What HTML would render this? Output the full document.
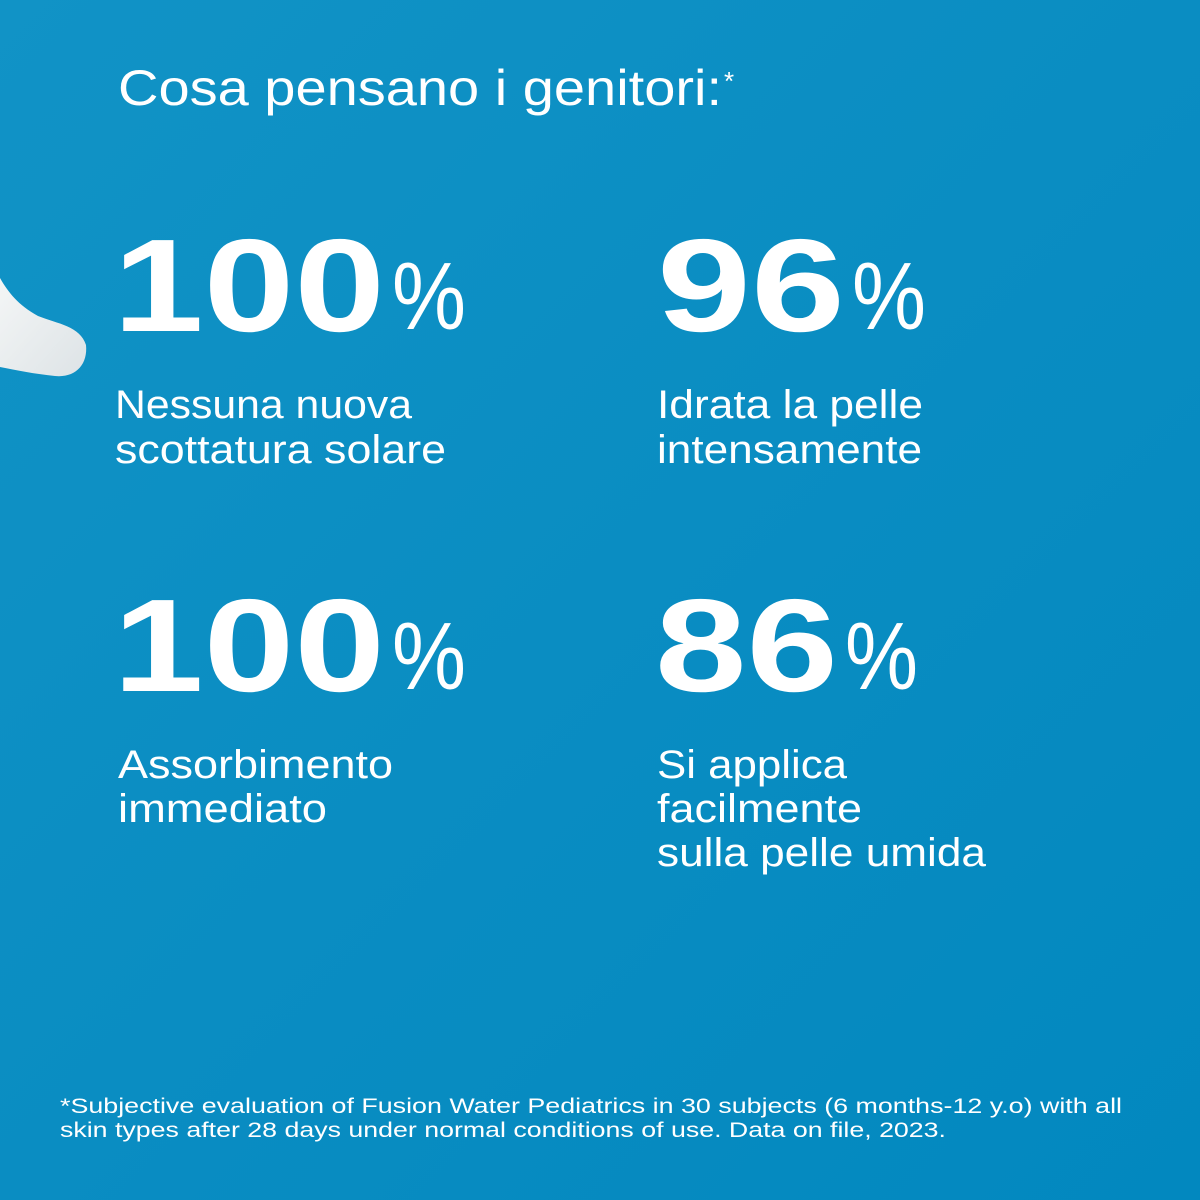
<!DOCTYPE html>
<html><head><meta charset="utf-8"><style>
html,body{margin:0;padding:0;width:1200px;height:1200px;overflow:hidden}
</style></head><body>
<svg width="1200" height="1200" viewBox="0 0 1200 1200" xmlns="http://www.w3.org/2000/svg">
<defs>
<linearGradient id="bg" x1="0" y1="0" x2="1" y2="1">
<stop offset="0" stop-color="#1193c6"/><stop offset="0.5" stop-color="#0a8dc2"/><stop offset="1" stop-color="#0288bf"/>
</linearGradient>
<linearGradient id="cr" x1="0" y1="0" x2="1" y2="1">
<stop offset="0" stop-color="#f4f6f6"/><stop offset="1" stop-color="#dde3e6"/>
</linearGradient>
</defs>
<rect width="1200" height="1200" fill="url(#bg)"/>
<path d="M0,278 C8,292 18,305 38,316 C58,324 80,326 86,345 C88,365 75,378 55,376 C35,374 15,370 0,367 Z" fill="url(#cr)"/>
<g fill="#fff" font-family="Liberation Sans, sans-serif">
<text x="118" y="105" font-size="50" textLength="604" lengthAdjust="spacingAndGlyphs">Cosa pensano i genitori:</text>
<text x="724" y="90" font-size="26">*</text>

<text x="113" y="331" font-size="132" font-weight="bold" textLength="272" lengthAdjust="spacingAndGlyphs">100</text>
<text x="392" y="329" font-size="96" textLength="74" lengthAdjust="spacingAndGlyphs">%</text>
<text x="657" y="331" font-size="132" font-weight="bold" textLength="188" lengthAdjust="spacingAndGlyphs">96</text>
<text x="852" y="329" font-size="96" textLength="74" lengthAdjust="spacingAndGlyphs">%</text>

<text x="115" y="418" font-size="40" textLength="297" lengthAdjust="spacingAndGlyphs">Nessuna nuova</text>
<text x="115" y="463" font-size="40" textLength="331" lengthAdjust="spacingAndGlyphs">scottatura solare</text>
<text x="657" y="418" font-size="40" textLength="266" lengthAdjust="spacingAndGlyphs">Idrata la pelle</text>
<text x="657" y="463" font-size="40" textLength="265" lengthAdjust="spacingAndGlyphs">intensamente</text>

<text x="113" y="691" font-size="132" font-weight="bold" textLength="272" lengthAdjust="spacingAndGlyphs">100</text>
<text x="392" y="689" font-size="96" textLength="74" lengthAdjust="spacingAndGlyphs">%</text>
<text x="655" y="691" font-size="132" font-weight="bold" textLength="183" lengthAdjust="spacingAndGlyphs">86</text>
<text x="845" y="689" font-size="96" textLength="73" lengthAdjust="spacingAndGlyphs">%</text>

<text x="118" y="778" font-size="40" textLength="275" lengthAdjust="spacingAndGlyphs">Assorbimento</text>
<text x="118" y="822" font-size="40" textLength="209" lengthAdjust="spacingAndGlyphs">immediato</text>
<text x="657" y="778" font-size="40" textLength="190" lengthAdjust="spacingAndGlyphs">Si applica</text>
<text x="657" y="822" font-size="40" textLength="205" lengthAdjust="spacingAndGlyphs">facilmente</text>
<text x="657" y="866" font-size="40" textLength="329" lengthAdjust="spacingAndGlyphs">sulla pelle umida</text>

<text x="60" y="1113" font-size="21" textLength="1062" lengthAdjust="spacingAndGlyphs">*Subjective evaluation of Fusion Water Pediatrics in 30 subjects (6 months-12 y.o) with all</text>
<text x="60" y="1137" font-size="21" textLength="886" lengthAdjust="spacingAndGlyphs">skin types after 28 days under normal conditions of use. Data on file, 2023.</text>
</g>
</svg>
</body></html>
